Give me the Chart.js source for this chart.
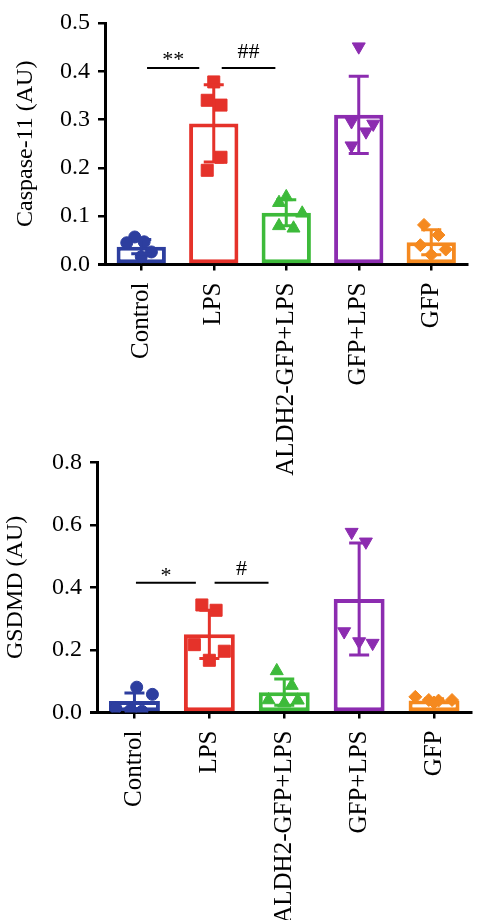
<!DOCTYPE html>
<html>
<head>
<title>Caspase-11 / GSDMD</title>
<script src="https://cdn.jsdelivr.net/npm/chart.js@4.4.0/dist/chart.umd.min.js"></script>
<style>
    body { margin: 0; background: #fff; }
    #wrap { position: relative; width: 481px; height: 920px; }
    canvas { position: absolute; left: 0; }
    #top-chart { top: 0; }
    #bottom-chart { top: 440px; }
</style>
</head>
<body>
<div id="wrap">
    <canvas id="top-chart" width="481" height="480"></canvas>
    <canvas id="bottom-chart" width="481" height="480"></canvas>
</div>
<script>
    const groups = ['Control', 'LPS', 'ALDH2-GFP+LPS', 'GFP+LPS', 'GFP'];

    // Caspase-11 (AU)
    const casMean = [0.037, 0.292, 0.107, 0.310, 0.046];
    const casSD = [0.015, 0.080, 0.027, 0.080, 0.026];
    const casControl = [0.057, 0.047, 0.045, 0.026, 0.016];
    const casLPS = [0.378, 0.340, 0.330, 0.222, 0.195];
    const casALDH2 = [0.140, 0.128, 0.106, 0.080, 0.075];
    const casGFPLPS = [0.451, 0.296, 0.291, 0.275, 0.246];
    const casGFP = [0.082, 0.061, 0.040, 0.031, 0.020];
    const casSigText = ['**', '##'];

    // GSDMD (AU)
    const gsMean = [0.037, 0.250, 0.065, 0.363, 0.038];
    const gsSD = [0.025, 0.077, 0.042, 0.179, 0.006];
    const gsControl = [0.081, 0.058, 0.014, 0.008, 0.004];
    const gsLPS = [0.344, 0.327, 0.217, 0.196, 0.167];
    const gsALDH2 = [0.133, 0.086, 0.040, 0.039, 0.030];
    const gsGFPLPS = [0.577, 0.546, 0.259, 0.227, 0.222];
    const gsGFP = [0.050, 0.040, 0.038, 0.040, 0.032];
    const gsSigText = ['*', '#'];

    // styling / placement (not data)
    const colors = ['#2d3e9f', '#e5322a', '#3dba3a', '#8c2cb0', '#f5891f'];
    const shapes = ['circle', 'rect', 'triangle', 'triangle', 'rectRot'];
    const rotations = [0, 0, 0, 180, 0];
    const radii = [6, 8.5, 7.5, 7.5, 6.5];
    const casJitter = [
        [-0.09, 0.04, -0.2, 0.14, 0],
        [0, -0.09, 0.1, 0.1, -0.09],
        [0, -0.1, 0.22, -0.1, 0.1],
        [0, -0.1, 0.2, 0.1, -0.1],
        [-0.1, 0.1, -0.15, 0.2, 0]
    ];
    const gsJitter = [
        [0.03, 0.24, -0.25, -0.05, 0.1],
        [-0.1, 0.09, -0.2, 0.2, 0],
        [-0.1, 0.1, -0.21, 0.18, 0],
        [-0.1, 0.09, -0.2, 0, 0.18],
        [-0.25, -0.07, 0.06, 0.24, 0]
    ];
    // bracket: from, to (category units), line y, text y
    const casBrackets = [[0.08, 0.8, 0.407, 0.411], [1.11, 1.85, 0.407, 0.427]];
    const gsBrackets = [[0.02, 0.82, 0.415, 0.418], [1.07, 1.79, 0.415, 0.441]];

    const serif = 'Liberation Serif';

    const extras = {
        id: 'extras',
        afterDatasetsDraw(chart, args, opts) {
            const ctx = chart.ctx;
            const x = chart.scales.x, xj = chart.scales.xj, y = chart.scales.y;
            ctx.save();
            // error bars
            opts.means.forEach((m, i) => {
                const px = x.getPixelForValue(i);
                const hi = y.getPixelForValue(m + opts.sd[i]);
                const lo = y.getPixelForValue(Math.max(0, m - opts.sd[i]));
                ctx.strokeStyle = colors[i];
                ctx.lineWidth = 3;
                ctx.beginPath();
                ctx.moveTo(px, lo); ctx.lineTo(px, hi);
                ctx.moveTo(px - 10, hi); ctx.lineTo(px + 10, hi);
                ctx.moveTo(px - 10, lo); ctx.lineTo(px + 10, lo);
                ctx.stroke();
            });
            // significance brackets
            ctx.strokeStyle = '#000';
            ctx.fillStyle = '#000';
            ctx.lineWidth = 2;
            ctx.font = '22px "' + serif + '"';
            ctx.textAlign = 'center';
            ctx.textBaseline = 'alphabetic';
            opts.brackets.forEach((b, i) => {
                const x1 = xj.getPixelForValue(b[0]);
                const x2 = xj.getPixelForValue(b[1]);
                const ly = y.getPixelForValue(b[2]);
                ctx.beginPath();
                ctx.moveTo(x1, ly); ctx.lineTo(x2, ly);
                ctx.stroke();
                ctx.fillText(opts.labels[i], (x1 + x2) / 2, y.getPixelForValue(b[3]));
            });
            // x axis runs a little past the y axis
            const a = chart.chartArea;
            ctx.lineWidth = 3;
            ctx.beginPath();
            ctx.moveTo(a.left - 7, a.bottom);
            ctx.lineTo(a.left, a.bottom);
            ctx.stroke();
            ctx.restore();
        }
    };

    function makeChart(id, c) {
        const scatterSets = c.points.map((pts, g) => ({
            type: 'scatter',
            xAxisID: 'xj',
            yAxisID: 'y',
            order: 1,
            data: pts.map((v, k) => ({ x: g + c.jitter[g][k], y: v })),
            pointStyle: shapes[g],
            rotation: rotations[g],
            radius: radii[g],
            backgroundColor: colors[g],
            borderColor: colors[g],
            borderWidth: 1
        }));

        return new Chart(document.getElementById(id).getContext('2d'), {
            type: 'bar',
            data: {
                labels: groups,
                datasets: [{
                    data: c.means,
                    order: 2,
                    grouped: false,
                    backgroundColor: 'rgba(255,255,255,1)',
                    borderColor: colors,
                    borderWidth: 4,
                    borderSkipped: false,
                    barPercentage: 0.68,
                    categoryPercentage: 1
                }].concat(scatterSets)
            },
            options: {
                responsive: false,
                animation: false,
                layout: { padding: c.padding },
                plugins: {
                    legend: { display: false },
                    tooltip: { enabled: false },
                    extras: { means: c.means, sd: c.sd, brackets: c.brackets, labels: c.sigText }
                },
                scales: {
                    x: {
                        type: 'category',
                        offset: true,
                        grid: { drawOnChartArea: false, offset: false, tickLength: 6, color: '#000', lineWidth: 2.5 },
                        border: { color: '#000', width: 3 },
                        ticks: {
                            color: '#000',
                            font: { family: serif, size: 25 },
                            minRotation: 90,
                            maxRotation: 90,
                            autoSkip: false,
                            padding: 12
                        },
                        afterFit: s => { s.height = c.xHeight; }
                    },
                    xj: { type: 'linear', display: false, offset: false, min: -0.5, max: 4.5 },
                    y: {
                        min: 0,
                        max: c.max,
                        grid: { drawOnChartArea: false, tickLength: 7, color: '#000', lineWidth: 2.5 },
                        border: { color: '#000', width: 3 },
                        ticks: {
                            stepSize: c.step,
                            color: '#000',
                            font: { family: serif, size: 24 },
                            padding: 8,
                            callback: v => v.toFixed(1)
                        },
                        title: {
                            display: true,
                            text: c.title,
                            color: '#000',
                            font: { family: serif, size: 24, weight: 'normal' },
                            padding: { top: c.titlePad, bottom: 0 }
                        },
                        afterFit: s => { s.width = c.yWidth; }
                    }
                }
            },
            plugins: [extras]
        });
    }

    makeChart('top-chart', {
        means: casMean, sd: casSD,
        points: [casControl, casLPS, casALDH2, casGFPLPS, casGFP],
        jitter: casJitter, brackets: casBrackets, sigText: casSigText,
        max: 0.5, step: 0.1, title: 'Caspase-11 (AU)',
        padding: { top: 23, right: 13.5, left: 0, bottom: 0 },
        xHeight: 215.5, yWidth: 105, titlePad: 11
    });

    makeChart('bottom-chart', {
        means: gsMean, sd: gsSD,
        points: [gsControl, gsLPS, gsALDH2, gsGFPLPS, gsGFP],
        jitter: gsJitter, brackets: gsBrackets, sigText: gsSigText,
        max: 0.8, step: 0.2, title: 'GSDMD (AU)',
        padding: { top: 17.3, right: 1, left: 0, bottom: 0 },
        xHeight: 207.5, yWidth: 97, titlePad: 1
    });
</script>
</body>
</html>
